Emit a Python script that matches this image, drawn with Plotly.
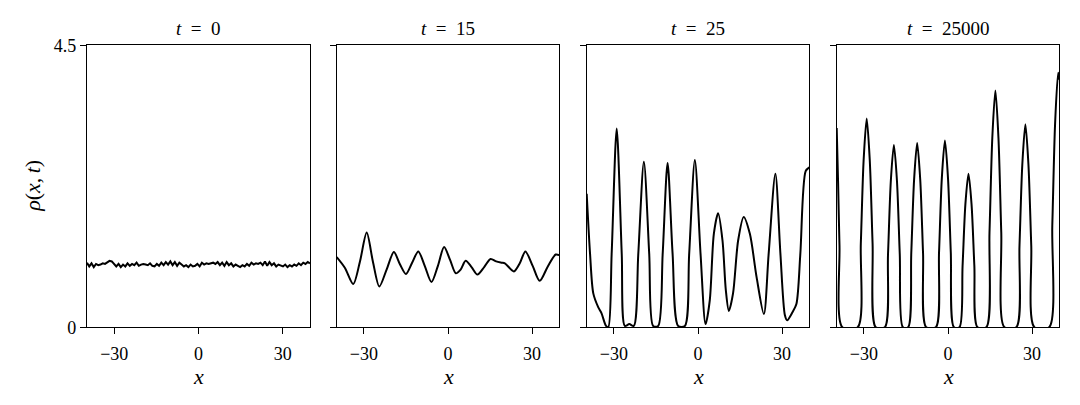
import numpy as np
import plotly.graph_objects as go

# ---------------- data ----------------
titles = ["<i>t</i>\u2002=\u20020", "<i>t</i>\u2002=\u200215",
          "<i>t</i>\u2002=\u200225", "<i>t</i>\u2002=\u200225000"]
x_ticks = [-30, 0, 30]
y_ticks = [0, 4.5]
y_ticklabels = ["0", "4.5"]

# t = 0 : noisy uniform density
rho0 = [1.03, 0.97, 1.02, 0.96, 1.01, 0.99, 1.00, 1.02, 1.01, 1.04,
        1.06, 1.05, 1.00, 0.97, 1.01, 0.96, 1.00, 0.97, 1.02, 0.98,
        1.01, 0.99, 1.03, 0.98, 1.00, 1.01, 1.00, 0.99, 1.02, 0.98,
        0.97, 1.01, 0.98, 1.03, 0.99, 1.04, 1.00, 1.05, 0.99, 1.04,
        0.98, 1.03, 1.00, 0.97, 0.99, 0.96, 1.00, 0.97, 0.98, 1.01,
        0.97, 1.03, 1.00, 1.02, 1.01, 1.02, 1.03, 1.01, 1.04, 0.99,
        1.03, 0.98, 1.04, 0.99, 1.02, 0.97, 1.00, 0.98, 0.96, 0.99,
        0.97, 1.01, 0.98, 1.03, 1.00, 1.02, 1.01, 1.03, 0.99, 1.05,
        0.98, 1.04, 0.99, 1.02, 0.97, 1.00, 0.98, 0.97, 1.00, 0.96,
        0.99, 0.97, 1.00, 0.98, 1.02, 0.99, 1.03, 1.01, 1.04, 1.02]
x0 = list(np.linspace(-39.7, 39.7, len(rho0)))

# t = 15
x15 = [-39.7, -36.8, -33.8, -31.4, -29.0, -26.8, -24.5, -21.9, -19.3, -17.1,
       -15.0, -12.8, -10.6, -8.3, -5.9, -3.6, -1.4, 0.7, 2.8, 4.5,
       6.3, 8.4, 10.5, 12.9, 15.2, 17.2, 19.1, 20.3, 23.5, 25.6,
       27.6, 30.2, 32.7, 35.6, 38.4, 39.7]
rho15 = [1.12, 0.95, 0.69, 1.05, 1.51, 1.05, 0.65, 0.92, 1.20, 1.00,
         0.85, 1.03, 1.21, 0.98, 0.72, 0.98, 1.28, 1.08, 0.86, 0.92,
         1.06, 0.96, 0.84, 0.96, 1.09, 1.05, 1.03, 1.02, 0.89, 1.02,
         1.21, 0.98, 0.74, 0.97, 1.16, 1.15]

# t = 25
x25 = [-39.7, -38.5, -37.35, -35.6, -34.4, -32.8, -32.0, -30.8, -29.0, -27.2,
       -26.1, -24.5, -22.9, -21.3, -19.3, -17.4, -16.0, -14.2, -12.6, -10.85,
       -9.06, -7.07, -4.68, -3.15, -1.12, 0.91, 2.7, 4.2, 5.65, 7.18,
       8.75, 9.93, 11.0, 12.5, 14.3, 16.3, 18.5, 20.9, 23.5, 25.2,
       27.6, 29.4, 31.0, 31.8, 33.7, 35.1, 36.5, 38.4, 39.7]
rho25 = [2.13, 1.17, 0.54, 0.32, 0.22, 0.02, 0.0, 1.17, 3.17, 1.17,
         0.02, 0.05, 0.02, 1.17, 2.64, 1.17, 0.02, 0.02, 1.17, 2.62,
         1.17, 0.02, 0.02, 1.17, 2.67, 1.17, 0.05, 0.43, 1.49, 1.82,
         1.38, 0.59, 0.26, 0.54, 1.38, 1.76, 1.49, 0.80, 0.21, 1.17,
         2.45, 1.17, 0.19, 0.11, 0.24, 0.37, 1.17, 2.49, 2.55]

# t = 25000
x25k = [-39.7, -39.2, -38.7, -37.7,
        -32.2, -31.1, -30.1, -29.0, -27.9, -26.9, -25.8,
        -22.5, -21.4, -20.4, -19.3, -18.2, -17.2, -16.1,
        -14.2, -13.1, -12.1, -11.0, -9.9, -8.9, -7.8,
        -4.3, -3.2, -2.2, -1.1, 0.0, 1.0, 2.1,
        4.1, 5.2, 6.2, 7.3, 8.4, 9.4, 10.5,
        13.7, 14.8, 15.8, 16.9, 18.0, 19.0, 20.1,
        24.4, 25.5, 26.5, 27.6, 28.7, 29.7, 30.8,
        36.1, 37.2, 38.2, 39.3, 39.7]
rho25k = [3.18, 2.30, 1.30, 0.0,
          0.0, 1.33, 2.66, 3.33, 2.66, 1.33, 0.0,
          0.0, 1.16, 2.33, 2.91, 2.33, 1.16, 0.0,
          0.0, 1.18, 2.35, 2.94, 2.35, 1.18, 0.0,
          0.0, 1.19, 2.38, 2.98, 2.38, 1.19, 0.0,
          0.0, 0.98, 1.96, 2.45, 1.96, 0.98, 0.0,
          0.0, 1.51, 3.02, 3.78, 3.02, 1.51, 0.0,
          0.0, 1.30, 2.59, 3.24, 2.59, 1.30, 0.0,
          0.0, 1.62, 3.25, 4.06, 3.95]

series = [(x0, rho0, "linear"), (x15, rho15, "spline"),
          (x25, rho25, "spline"), (x25k, rho25k, "spline")]

# ---------------- figure ----------------
W, H = 1080, 405
panel_px = [(87.0, 310.0), (336.7, 559.3), (586.7, 809.3), (836.7, 1059.3)]
y_top, y_bot = 37.1, 333.7
ydom = [(H - y_bot) / H, (H - y_top) / H]

FONT = "Liberation Serif"
fig = go.Figure()
annotations = []
for i, ((xs, ys, shape), (l, r)) in enumerate(zip(series, panel_px)):
    n = "" if i == 0 else str(i + 1)
    fig.add_trace(go.Scatter(x=xs, y=ys, mode="lines",
                             line=dict(color="black", width=2.0, shape=shape,
                                       smoothing=0.8),
                             xaxis="x" + n, yaxis="y" + n, showlegend=False,
                             hoverinfo="skip"))
    fig.layout["xaxis" + n] = dict(
        domain=[l / W, r / W], range=[-39.7, 39.7], anchor="y" + n,
        tickvals=x_ticks, ticks="outside", ticklen=6, tickwidth=1.2,
        tickcolor="black", showline=True, linecolor="black", linewidth=1.3,
        mirror=True, showgrid=False, zeroline=False, ticklabelstandoff=4,
        tickfont=dict(family=FONT, size=18, color="black"))
    fig.layout["yaxis" + n] = dict(
        domain=ydom, range=[0, 4.5], anchor="x" + n,
        tickvals=y_ticks, ticktext=y_ticklabels, showticklabels=(i == 0),
        ticks="outside", ticklen=6, tickwidth=1.2, tickcolor="black",
        showline=True, linecolor="black", linewidth=1.3, mirror=True,
        showgrid=False, zeroline=False,
        tickfont=dict(family=FONT, size=18, color="black"))
    cx = (l + r) / 2 / W
    annotations.append(dict(text=titles[i], x=cx, y=(H - 19.9) / H,
                            xref="paper", yref="paper", showarrow=False,
                            xanchor="center", yanchor="middle",
                            font=dict(family=FONT, size=19, color="black")))
    annotations.append(dict(text="<i>x</i>", x=cx, y=(H - 385.4) / H,
                            xref="paper", yref="paper", showarrow=False,
                            xanchor="center", yanchor="middle",
                            font=dict(family=FONT, size=22, color="black")))

annotations.append(dict(text="<i>ρ</i>(<i>x</i>,\u2009<i>t</i>)", x=33 / W,
                        y=(H - 185) / H, xref="paper", yref="paper",
                        showarrow=False, textangle=-90, xanchor="center",
                        yanchor="middle",
                        font=dict(family=FONT, size=22, color="black")))

fig.update_layout(width=W, height=H, margin=dict(l=0, r=0, t=0, b=0),
                  paper_bgcolor="white", plot_bgcolor="white",
                  annotations=annotations, hovermode=False)
fig.write_html("out.html", config={"displayModeBar": False},
               post_script="document.body.style.margin='0';"
                           "document.body.style.overflow='hidden';")
